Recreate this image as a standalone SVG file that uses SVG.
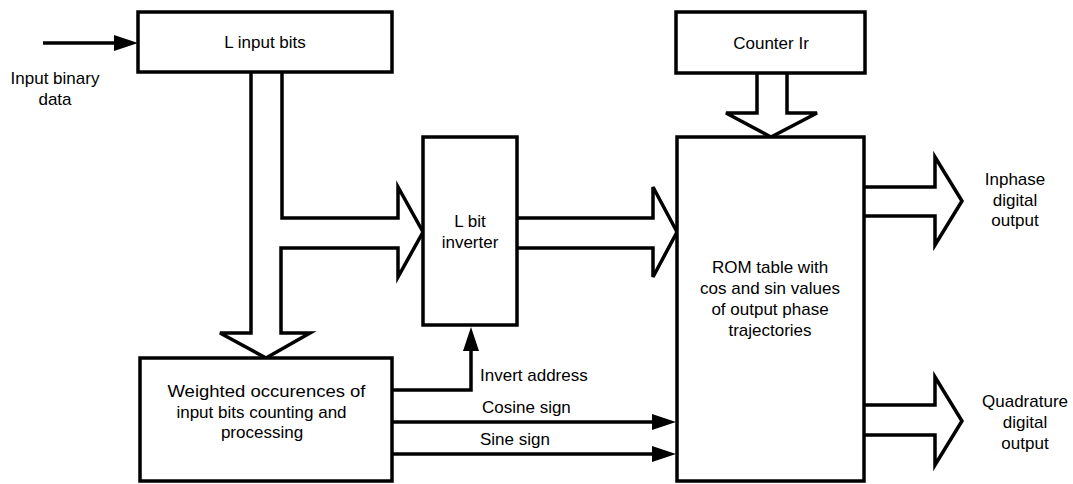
<svg xmlns="http://www.w3.org/2000/svg" width="1073" height="484" viewBox="0 0 1073 484">
<style>
.box{fill:#fff;stroke:#000;stroke-width:3.5}
.bus{fill:none;stroke:#000;stroke-width:3.5;stroke-linejoin:miter}
.ln{fill:none;stroke:#000;stroke-width:3.5}
text{font-family:"Liberation Sans",Arial,sans-serif;font-size:17px;fill:#000}
.c{text-anchor:middle}
</style>
<defs>
<marker id="ah" markerUnits="userSpaceOnUse" markerWidth="24" markerHeight="16" viewBox="0 0 24 16" refX="12" refY="8" orient="auto">
<path d="M0,0 L24,8 L0,16 z" fill="#000"/>
</marker>
</defs>
<rect width="1073" height="484" fill="#fff"/>
<g id="connectors">
<path class="bus" d="M251,72 V333 H220 L266,358 L310,333 H281 V248 H398 V277 L423,232 L398,187 V218 H282 V72"/>
<path class="bus" d="M517,218 H653 V187 L677,232 L653,277 V248 H517"/>
<path class="bus" d="M757,73 V113 H726 L771,137 L817,113 H787 V73"/>
<path class="bus" d="M864,187 H935 V157 L962,201 L935,245 V216 H864"/>
<path class="bus" d="M864,405 H935 V377 L962,421 L935,465 V435 H864"/>
<path class="ln" d="M43,43 H126" marker-end="url(#ah)"/>
<path class="ln" d="M392,390 H471 V339" marker-end="url(#ah)"/>
<path class="ln" d="M392,422 H664" marker-end="url(#ah)"/>
<path class="ln" d="M392,454 H664" marker-end="url(#ah)"/>
<text x="55" y="84" class="c">Input binary</text>
<text x="55" y="105" class="c">data</text>
<text x="480" y="381">Invert address</text>
<text x="482" y="413">Cosine sign</text>
<text x="480" y="445">Sine sign</text>
<text x="1015" y="185" class="c">Inphase</text>
<text x="1015" y="205.5" class="c">digital</text>
<text x="1015" y="226" class="c">output</text>
<text x="1025" y="407" class="c">Quadrature</text>
<text x="1025" y="428" class="c">digital</text>
<text x="1025" y="449" class="c">output</text>
</g>
<g id="node-input">
<rect class="box" x="138" y="12" width="254" height="60"/>
<text x="265" y="48" class="c">L input bits</text>
</g>
<g id="node-counter">
<rect class="box" x="676" y="12" width="189" height="61"/>
<text x="771" y="49" class="c">Counter Ir</text>
</g>
<g id="node-inverter">
<rect class="box" x="423" y="137" width="94" height="188"/>
<text x="470" y="227" class="c">L bit</text>
<text x="470" y="248" class="c">inverter</text>
</g>
<g id="node-weighted">
<rect class="box" x="140" y="358" width="252" height="123"/>
<text x="266.5" y="396.5" class="c" textLength="198" lengthAdjust="spacingAndGlyphs">Weighted occurences of</text>
<text x="261.5" y="418" class="c">input bits counting and</text>
<text x="262" y="438" class="c">processing</text>
</g>
<g id="node-rom">
<rect class="box" x="677" y="137" width="187" height="344"/>
<text x="770" y="273" class="c">ROM table with</text>
<text x="770" y="294" class="c">cos and sin values</text>
<text x="770" y="315" class="c">of output phase</text>
<text x="770" y="336" class="c">trajectories</text>
</g>
</svg>
